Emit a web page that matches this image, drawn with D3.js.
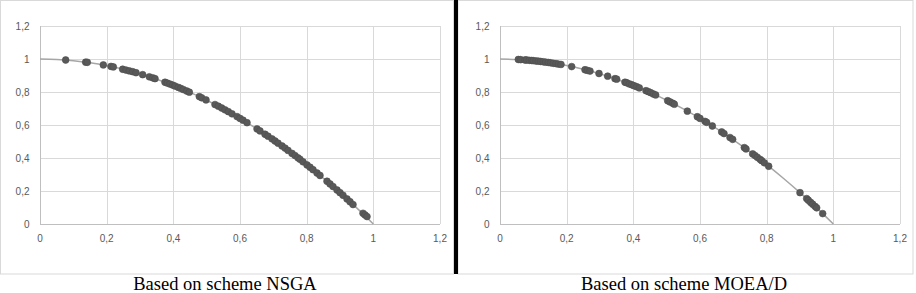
<!DOCTYPE html>
<html><head><meta charset="utf-8">
<script src="https://cdn.jsdelivr.net/npm/d3@7"></script>
<style>html,body{margin:0;padding:0;background:#fff;}svg{display:block;}</style>
</head><body>
<svg id="chart" width="916" height="293"></svg>
<script>
// ---- Data ----
const titles = ["Based on scheme NSGA", "Based on scheme MOEA/D"];
const ticks = [0, 0.2, 0.4, 0.6, 0.8, 1, 1.2];
const tickLabels = ["0", "0,2", "0,4", "0,6", "0,8", "1", "1,2"];

// reference front (grey line)
const frontX = [0, 0.05, 0.1, 0.15, 0.2, 0.25, 0.3, 0.35, 0.4, 0.45, 0.5, 0.55, 0.6, 0.65, 0.7, 0.75, 0.8, 0.85, 0.9, 0.95, 1];
const frontY = [1, 0.9975, 0.99, 0.9775, 0.96, 0.9375, 0.91, 0.8775, 0.84, 0.7975, 0.75, 0.6975, 0.64, 0.5775, 0.51, 0.4375, 0.36, 0.2775, 0.19, 0.0975, 0];

// NSGA solutions
const nsgaX = [0.077,0.137,0.142,0.190,0.213,0.220,0.248,0.258,0.268,0.278,0.288,0.308,0.328,0.338,0.345,0.375,0.382,0.390,0.398,0.405,0.415,0.422,0.430,0.440,0.448,0.478,0.485,0.498,0.525,0.535,0.545,0.555,0.565,0.576,0.591,0.600,0.609,0.621,0.651,0.660,0.675,0.684,0.696,0.705,0.714,0.726,0.735,0.744,0.756,0.765,0.774,0.780,0.789,0.801,0.810,0.819,0.831,0.840,0.861,0.870,0.879,0.891,0.900,0.909,0.921,0.930,0.939,0.969,0.975,0.981];
const nsgaY = [0.994,0.981,0.980,0.964,0.955,0.952,0.938,0.933,0.928,0.923,0.917,0.905,0.892,0.886,0.881,0.859,0.854,0.848,0.842,0.836,0.828,0.822,0.815,0.806,0.799,0.772,0.765,0.752,0.724,0.714,0.703,0.692,0.681,0.668,0.651,0.640,0.629,0.614,0.576,0.564,0.544,0.532,0.516,0.503,0.490,0.473,0.460,0.446,0.428,0.415,0.401,0.392,0.377,0.358,0.344,0.329,0.309,0.294,0.259,0.243,0.227,0.206,0.190,0.174,0.152,0.135,0.118,0.065,0.055,0.045];

// MOEA/D solutions
const moeadX = [0.055,0.062,0.075,0.080,0.088,0.095,0.100,0.108,0.115,0.122,0.130,0.137,0.145,0.152,0.160,0.168,0.175,0.183,0.215,0.255,0.262,0.270,0.297,0.323,0.345,0.350,0.375,0.380,0.388,0.395,0.402,0.410,0.418,0.438,0.445,0.452,0.460,0.467,0.503,0.510,0.518,0.523,0.562,0.592,0.600,0.615,0.620,0.637,0.665,0.672,0.690,0.698,0.733,0.738,0.758,0.765,0.772,0.780,0.785,0.793,0.806,0.900,0.920,0.925,0.932,0.938,0.945,0.950,0.968];
const moeadY = [0.997,0.996,0.994,0.994,0.992,0.991,0.990,0.988,0.987,0.985,0.983,0.981,0.979,0.977,0.974,0.972,0.969,0.967,0.954,0.935,0.931,0.927,0.912,0.896,0.881,0.878,0.859,0.856,0.849,0.844,0.838,0.832,0.825,0.808,0.802,0.796,0.788,0.782,0.747,0.740,0.732,0.726,0.684,0.650,0.640,0.622,0.616,0.594,0.558,0.548,0.524,0.513,0.463,0.455,0.425,0.415,0.404,0.392,0.384,0.371,0.350,0.190,0.154,0.144,0.131,0.120,0.107,0.098,0.063];

const panels = [
  {title: titles[0], xs: nsgaX, ys: nsgaY, frame: [0.5, 0.5, 453, 273.5], plot: [40, 440], labelRight: 29.5, cap: 225},
  {title: titles[1], xs: moeadX, ys: moeadY, frame: [458, 0.5, 455, 273.5], plot: [500, 900], labelRight: 489.5, cap: 684}
];

const svg = d3.select("#chart");
const front = frontX.map((x, i) => [x, frontY[i]]);

panels.forEach(p => {
  const g = svg.append("g");
  g.append("rect").attr("x", p.frame[0]).attr("y", p.frame[1]).attr("width", p.frame[2]).attr("height", p.frame[3])
    .attr("fill", "#fff").attr("stroke", "#d9d9d9").attr("stroke-width", 1);

  const x = d3.scaleLinear().domain([0, 1.2]).range(p.plot);
  const y = d3.scaleLinear().domain([0, 1.2]).range([224, 26]);

  // grid
  g.append("g").selectAll("line").data(ticks).join("line")
    .attr("x1", d => Math.round(x(d)) + 0.5).attr("x2", d => Math.round(x(d)) + 0.5)
    .attr("y1", y(1.2)).attr("y2", y(0)).attr("stroke", "#d9d9d9").attr("stroke-width", 1);
  g.append("g").selectAll("line").data(ticks).join("line")
    .attr("x1", x(0)).attr("x2", x(1.2))
    .attr("y1", d => Math.round(y(d)) + 0.5).attr("y2", d => Math.round(y(d)) + 0.5)
    .attr("stroke", "#d9d9d9").attr("stroke-width", 1);
  // axis lines
  g.append("line").attr("x1", x(0)).attr("x2", x(1.2)).attr("y1", y(0) + 0.5).attr("y2", y(0) + 0.5).attr("stroke", "#bfbfbf");
  g.append("line").attr("x1", Math.round(x(0)) + 0.5).attr("x2", Math.round(x(0)) + 0.5).attr("y1", y(1.2)).attr("y2", y(0)).attr("stroke", "#bfbfbf");

  // tick labels
  g.append("g").selectAll("text").data(ticks).join("text")
    .attr("x", p.labelRight).attr("y", d => y(d) + 3.5).attr("text-anchor", "end")
    .attr("font-family", "Liberation Sans, Arial, sans-serif").attr("font-size", 10).attr("fill", "#595959")
    .text((d, i) => tickLabels[i]);
  g.append("g").selectAll("text").data(ticks).join("text")
    .attr("x", d => x(d)).attr("y", 242).attr("text-anchor", "middle")
    .attr("font-family", "Liberation Sans, Arial, sans-serif").attr("font-size", 10).attr("fill", "#595959")
    .text((d, i) => tickLabels[i]);

  // front line
  g.append("path").datum(front)
    .attr("d", d3.line().x(d => x(d[0])).y(d => y(d[1])).curve(d3.curveMonotoneX))
    .attr("fill", "none").attr("stroke", "#a6a6a6").attr("stroke-width", 1.5);

  // points
  g.append("g").selectAll("circle").data(p.xs.map((v, i) => [v, p.ys[i]])).join("circle")
    .attr("cx", d => x(d[0])).attr("cy", d => y(d[1])).attr("r", 3.4)
    .attr("fill", "#595959").attr("stroke", "#4f4f4f").attr("stroke-width", 0.6);

  // caption
  svg.append("text").attr("x", p.cap).attr("y", 289.5).attr("text-anchor", "middle")
    .attr("font-family", "Liberation Serif, Times New Roman, serif").attr("font-size", 18.5).attr("fill", "#000")
    .text(p.title);
});

// black divider
svg.append("rect").attr("x", 454).attr("y", 0).attr("width", 4).attr("height", 274).attr("fill", "#000");
</script>
</body></html>
